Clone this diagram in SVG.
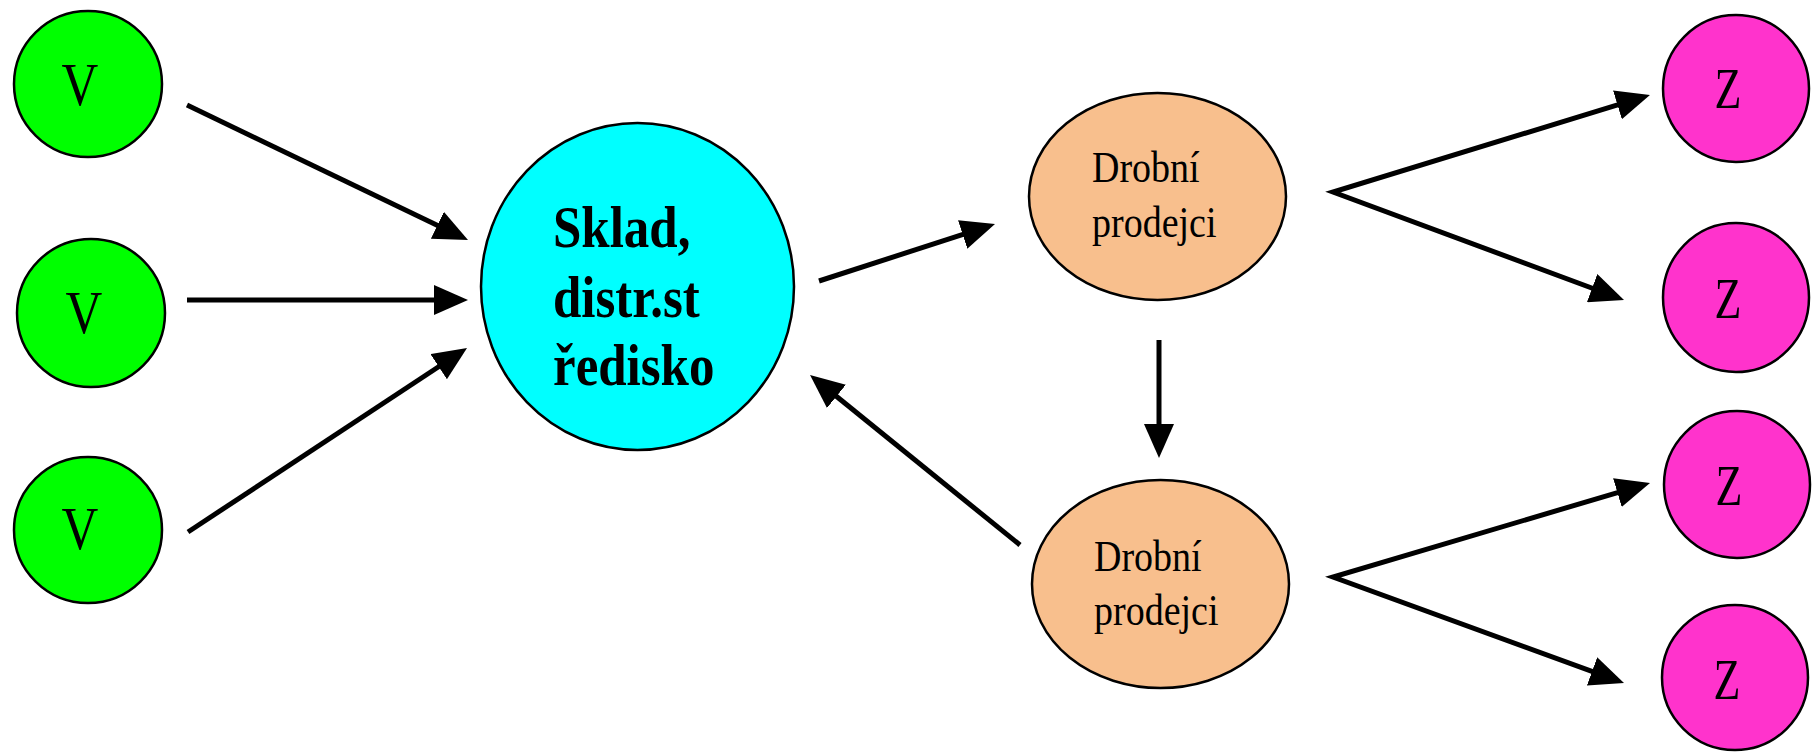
<svg xmlns="http://www.w3.org/2000/svg" width="1816" height="753" viewBox="0 0 1816 753">
<style>
.node{stroke:#000;stroke-width:2.5}
.v{fill:#00FF00}
.c{fill:#00FFFF}
.d{fill:#F8BF8D}
.z{fill:#FF33CC}
.t{font-family:"Liberation Serif","Times New Roman",serif;fill:#000}
.big{font-size:51px;text-anchor:middle}
.zt{font-size:44px;text-anchor:middle}
.ct{font-size:51px;font-weight:bold}
.dt{font-size:38px}
.conn{fill:none;stroke:#000;stroke-width:5;stroke-linejoin:miter}
</style>
<defs>
<marker id="ah" markerUnits="userSpaceOnUse" markerWidth="34" markerHeight="30" refX="24" refY="15" orient="auto-start-reverse" viewBox="0 0 34 30">
<path d="M0,0 L34,15 L0,30 z" fill="#000"/>
</marker>
</defs>
<rect width="1816" height="753" fill="#fff"/>
<g id="connectors">
<path class="conn" d="M187,105 L459,235.7" marker-end="url(#ah)"/>
<path class="conn" d="M187,300 L458,300" marker-end="url(#ah)"/>
<path class="conn" d="M188,532 L458.7,353.5" marker-end="url(#ah)"/>
<path class="conn" d="M819,281 L985.5,227.1" marker-end="url(#ah)"/>
<path class="conn" d="M1020,545 L817.8,381.3" marker-end="url(#ah)"/>
<path class="conn" d="M1159,340 L1159,448" marker-end="url(#ah)"/>
<path class="conn" d="M1640.4,97.9 L1333,192 L1614.6,296.5" marker-start="url(#ah)" marker-end="url(#ah)"/>
<path class="conn" d="M1640.4,485.8 L1333,577 L1614.6,679.6" marker-start="url(#ah)" marker-end="url(#ah)"/>
</g>
<g id="v1"><ellipse class="node v" cx="88" cy="84" rx="74" ry="73"/><text class="t big" transform="translate(80,105) scale(1,1.2)">V</text></g>
<g id="v2"><ellipse class="node v" cx="91" cy="313" rx="74" ry="74"/><text class="t big" transform="translate(84,333) scale(1,1.2)">V</text></g>
<g id="v3"><ellipse class="node v" cx="88" cy="530" rx="74" ry="73"/><text class="t big" transform="translate(80,549) scale(1,1.2)">V</text></g>
<g id="sklad"><ellipse class="node c" cx="637.5" cy="286.5" rx="156.5" ry="163.5"/>
<text class="t ct" transform="translate(553,247) scale(1,1.15)">Sklad,</text>
<text class="t ct" transform="translate(553,317) scale(1,1.15)">distr.st</text>
<text class="t ct" transform="translate(553,385) scale(1,1.15)">ředisko</text>
</g>
<g id="drobni1"><ellipse class="node d" cx="1157.5" cy="196.5" rx="128.5" ry="103.5"/>
<text class="t dt" transform="translate(1092,182) scale(1,1.15)">Drobní</text>
<text class="t dt" transform="translate(1092,237) scale(1,1.15)">prodejci</text>
</g>
<g id="drobni2"><ellipse class="node d" cx="1160.5" cy="584" rx="128.5" ry="104"/>
<text class="t dt" transform="translate(1094,571) scale(1,1.15)">Drobní</text>
<text class="t dt" transform="translate(1094,625) scale(1,1.15)">prodejci</text>
</g>
<g id="z1"><ellipse class="node z" cx="1736" cy="88.5" rx="73" ry="73.5"/><text class="t zt" transform="translate(1728,108) scale(1,1.3)">Z</text></g>
<g id="z2"><ellipse class="node z" cx="1736" cy="297.5" rx="73" ry="74.5"/><text class="t zt" transform="translate(1728,318) scale(1,1.3)">Z</text></g>
<g id="z3"><ellipse class="node z" cx="1737" cy="484.5" rx="73" ry="73.5"/><text class="t zt" transform="translate(1729,505) scale(1,1.3)">Z</text></g>
<g id="z4"><ellipse class="node z" cx="1735" cy="677.5" rx="73" ry="72.5"/><text class="t zt" transform="translate(1727,699) scale(1,1.3)">Z</text></g>
</svg>
